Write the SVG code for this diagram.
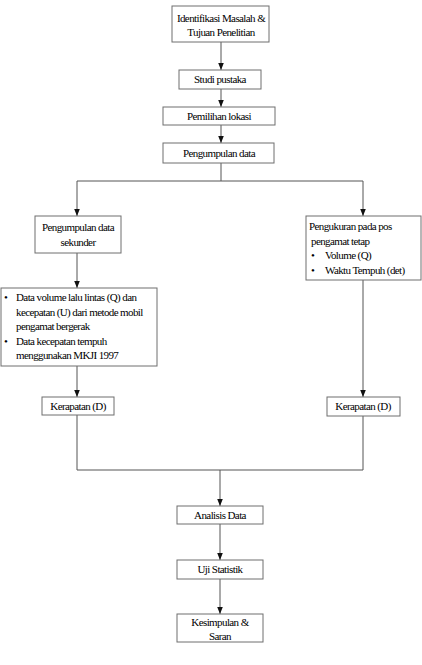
<svg xmlns="http://www.w3.org/2000/svg" width="422" height="665" viewBox="0 0 422 665">
<style>
.b{fill:#fff;stroke:#6e6e6e;stroke-width:1}
.c{fill:none;stroke:#555;stroke-width:1}
text{font-size:11px;fill:#000;letter-spacing:-0.6px}
.m{text-anchor:middle}
</style>
<defs>
<marker id="a" markerWidth="7" markerHeight="8" refX="7" refY="4" orient="auto" markerUnits="userSpaceOnUse">
<path d="M0,1.2 L7,4 L0,6.8 z" fill="#111"/>
</marker>
</defs>
<g id="connectors">
<line class="c" x1="221" y1="42" x2="221" y2="70" marker-end="url(#a)"/>
<line class="c" x1="221" y1="89" x2="221" y2="107" marker-end="url(#a)"/>
<line class="c" x1="221" y1="125" x2="221" y2="143" marker-end="url(#a)"/>
<polyline class="c" points="221,163 221,181 77,181 77,216" marker-end="url(#a)"/>
<polyline class="c" points="221,181 363,181 363,216" marker-end="url(#a)"/>
<line class="c" x1="77" y1="253" x2="77" y2="288" marker-end="url(#a)"/>
<line class="c" x1="77" y1="366" x2="77" y2="397" marker-end="url(#a)"/>
<line class="c" x1="363" y1="280" x2="363" y2="397" marker-end="url(#a)"/>
<polyline class="c" points="77,415 77,470 363,470 363,416"/>
<line class="c" x1="220" y1="470" x2="220" y2="506" marker-end="url(#a)"/>
<line class="c" x1="220" y1="524" x2="220" y2="560" marker-end="url(#a)"/>
<line class="c" x1="220" y1="579" x2="220" y2="614" marker-end="url(#a)"/>
</g>
<g font-family="'Liberation Serif', 'Times New Roman', serif">
<g id="n1"><rect class="b" x="172" y="6" width="97" height="36"/>
<text class="m" x="221" y="22">Identifikasi Masalah &amp;</text>
<text class="m" x="221" y="36">Tujuan Penelitian</text></g>
<g id="n2"><rect class="b" x="179" y="70" width="82" height="19"/>
<text class="m" x="220" y="83">Studi pustaka</text></g>
<g id="n3"><rect class="b" x="163" y="107" width="112" height="18"/>
<text class="m" x="219" y="120">Pemilihan lokasi</text></g>
<g id="n4"><rect class="b" x="163" y="143" width="111" height="20"/>
<text class="m" x="219" y="157">Pengumpulan data</text></g>
<g id="n5"><rect class="b" x="35" y="216" width="86" height="37"/>
<text class="m" x="78" y="231">Pengumpulan data</text>
<text class="m" x="78" y="246">sekunder</text></g>
<g id="n6"><rect class="b" x="1" y="288" width="156" height="78"/>
<text x="4" y="301">•</text>
<text x="16" y="301">Data volume lalu lintas (Q) dan</text>
<text x="16" y="316">kecepatan (U) dari metode mobil</text>
<text x="16" y="330">pengamat bergerak</text>
<text x="4" y="345">•</text>
<text x="16" y="345">Data kecepatan  tempuh</text>
<text x="16" y="359">menggunakan MKJI 1997</text></g>
<g id="n7"><rect class="b" x="306" y="216" width="115" height="64"/>
<text x="309" y="230">Pengukuran pada pos</text>
<text x="311" y="245">pengamat tetap</text>
<text x="311" y="259">•</text>
<text x="325" y="259">Volume (Q)</text>
<text x="311" y="274">•</text>
<text x="325" y="274">Waktu Tempuh (det)</text></g>
<g id="n8"><rect class="b" x="42" y="397" width="72" height="18"/>
<text class="m" x="78" y="410">Kerapatan (D)</text></g>
<g id="n9"><rect class="b" x="327" y="397" width="73" height="19"/>
<text class="m" x="363" y="410">Kerapatan (D)</text></g>
<g id="n10"><rect class="b" x="177" y="506" width="86" height="18"/>
<text class="m" x="220" y="519">Analisis Data</text></g>
<g id="n11"><rect class="b" x="177" y="560" width="86" height="19"/>
<text class="m" x="220" y="573">Uji Statistik</text></g>
<g id="n12"><rect class="b" x="177" y="614" width="86" height="28"/>
<text class="m" x="220" y="626">Kesimpulan &amp;</text>
<text class="m" x="220" y="640">Saran</text></g>
</g>
</svg>
